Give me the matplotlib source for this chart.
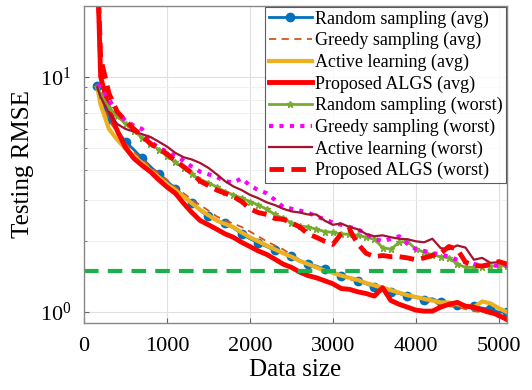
import matplotlib
matplotlib.use('Agg')
import matplotlib.pyplot as plt
import numpy as np

plt.rcParams['font.family'] = ['Liberation Serif', 'DejaVu Serif']
plt.rcParams['mathtext.fontset'] = 'stix'

# data size (x axis)
x = np.array([160, 200, 300, 400, 500, 600, 700, 800, 900, 1000,
              1100, 1200, 1300, 1400, 1500, 1600, 1700, 1800, 1900, 2000,
              2100, 2200, 2300, 2400, 2500, 2600, 2700, 2800, 2900, 3000,
              3100, 3200, 3300, 3400, 3500, 3600, 3700, 3800, 3900, 4000,
              4100, 4200, 4300, 4400, 4500, 4600, 4700, 4800, 4900, 5000, 5100])

# testing RMSE, averages
random_avg = [9.1, 8.0, 6.6, 5.9, 5.3, 4.9, 4.5, 4.15, 3.85, 3.6,
              3.35, 3.12, 2.92, 2.7, 2.55, 2.45, 2.38, 2.28, 2.15, 2.05,
              1.97, 1.9, 1.83, 1.78, 1.74, 1.66, 1.6, 1.57, 1.52, 1.48,
              1.43, 1.4, 1.36, 1.32, 1.28, 1.26, 1.22, 1.2, 1.17, 1.16,
              1.13, 1.14, 1.1, 1.09, 1.07, 1.07, 1.06, 1.04, 1.03, 1.0, 1.0]
greedy_avg = [9.0, 8.0, 6.5, 5.8, 5.2, 4.8, 4.45, 4.15, 3.9, 3.65,
              3.4, 3.2, 3.0, 2.85, 2.7, 2.55, 2.45, 2.38, 2.3, 2.2,
              2.1, 2.0, 1.92, 1.85, 1.75, 1.67, 1.6, 1.54, 1.5, 1.46,
              1.42, 1.38, 1.35, 1.32, 1.28, 1.26, 1.23, 1.2, 1.17, 1.15,
              1.12, 1.1, 1.08, 1.06, 1.05, 1.03, 1.01, 1.0, 0.98, 0.95, 0.93]
active_avg = [9.0, 7.6, 6.0, 5.4, 4.95, 4.6, 4.3, 4.0, 3.75, 3.5,
              3.3, 3.1, 2.9, 2.72, 2.58, 2.45, 2.37, 2.3, 2.18, 2.08,
              2.0, 1.92, 1.85, 1.78, 1.72, 1.65, 1.6, 1.55, 1.5, 1.47,
              1.43, 1.4, 1.37, 1.33, 1.3, 1.27, 1.24, 1.21, 1.18, 1.16,
              1.14, 1.12, 1.1, 1.1, 1.08, 1.06, 1.05, 1.11, 1.09, 1.04, 1.0]
algs_avg = [30.0, 10.0, 7.3, 5.9, 5.0, 4.5, 4.2, 3.95, 3.65, 3.4,
            3.2, 2.9, 2.65, 2.45, 2.35, 2.25, 2.15, 2.08, 1.98, 1.9,
            1.82, 1.76, 1.68, 1.6, 1.55, 1.48, 1.43, 1.4, 1.36, 1.32,
            1.26, 1.25, 1.22, 1.2, 1.17, 1.27, 1.12, 1.08, 1.05, 1.02,
            1.01, 1.01, 1.05, 1.08, 1.1, 1.06, 1.05, 1.02, 1.0, 0.97, 0.93]

# testing RMSE, worst case
random_worst = [9.0, 8.4, 7.4, 6.8, 6.3, 5.9, 5.5, 5.2, 4.9, 4.6,
                4.35, 4.1, 3.85, 3.65, 3.55, 3.4, 3.25, 3.15, 3.05, 2.95,
                2.85, 2.74, 2.6, 2.5, 2.4, 2.32, 2.3, 2.25, 2.2, 2.18,
                2.15, 2.14, 2.12, 2.08, 2.04, 1.88, 1.85, 1.98, 2.0, 1.85,
                1.8, 1.75, 1.72, 1.7, 1.6, 1.55, 1.55, 1.56, 1.57, 1.57, 1.57]
greedy_worst = [9.3, 9.0, 8.0, 7.1, 6.5, 6.2, 6.0, 5.3, 5.0, 4.8,
                4.6, 4.4, 4.15, 3.95, 3.85, 3.75, 3.6, 3.55, 3.7, 3.45,
                3.3, 3.2, 3.0, 2.8, 2.75, 2.7, 2.65, 2.55, 2.48, 2.4,
                2.35, 2.3, 2.25, 2.15, 2.05, 2.0, 2.05, 2.1, 1.95, 1.85,
                1.82, 1.78, 1.76, 1.72, 1.67, 1.63, 1.6, 1.58, 1.57, 1.58, 1.57]
active_worst = [9.0, 8.2, 7.0, 6.3, 6.0, 5.85, 5.7, 5.55, 5.3, 5.05,
                4.75, 4.55, 4.45, 4.3, 4.1, 3.85, 3.6, 3.42, 3.3, 3.15,
                3.05, 2.93, 2.85, 2.75, 2.68, 2.65, 2.6, 2.6, 2.45, 2.35,
                2.38, 2.3, 2.25, 2.15, 2.1, 2.12, 2.08, 2.05, 2.04, 2.0,
                1.98, 2.05, 1.87, 1.85, 1.92, 1.88, 1.67, 1.7, 1.62, 1.63, 1.6]
algs_worst = [30.0, 12.0, 8.5, 7.1, 6.5, 6.0, 5.6, 5.2, 4.95, 4.7,
              4.4, 4.15, 3.9, 3.6, 3.45, 3.3, 3.2, 3.1, 2.95, 2.75,
              2.65, 2.6, 2.5, 2.48, 2.4, 2.3, 2.15, 2.08, 2.0, 1.94,
              2.15, 2.25, 1.95, 1.78, 1.72, 1.74, 1.72, 1.72, 1.7, 1.67,
              1.7, 1.74, 1.78, 1.9, 1.85, 1.63, 1.58, 1.57, 1.6, 1.64, 1.6]

threshold = 1.5

fig = plt.figure(figsize=(5.32, 3.9), dpi=100)
ax = fig.add_axes([0.158, 0.172, 0.795, 0.813])

ax.plot(x, random_avg, color='#0072BD', lw=2, marker='o', ms=6, markevery=2,
        label='Random sampling (avg)')
ax.plot(x, greedy_avg, color='#D95319', lw=1.3, ls=(0, (4, 3)),
        label='Greedy sampling (avg)')
ax.plot(x, active_avg, color='#EDB120', lw=3, label='Active learning (avg)')
ax.plot(x, algs_avg, color='#FF0000', lw=3.5, label='Proposed ALGS (avg)')
ax.plot(x, random_worst, color='#77AC30', lw=2, marker='*', ms=5,
        label='Random sampling (worst)')
ax.plot(x, greedy_worst, color='#FF00FF', lw=3, ls=(0, (1, 1.5)),
        label='Greedy sampling (worst)')
ax.plot(x, active_worst, color='#A2142F', lw=1.6, label='Active learning (worst)')
ax.plot(x, algs_worst, color='#FF0000', lw=3.5, ls=(0, (3, 1.5)),
        label='Proposed ALGS (worst)')
ax.axhline(threshold, color='#1DB04A', lw=3, ls=(0, (3.5, 2.2)))

ax.set_yscale('log')
ax.set_xlim(0, 5100)
ax.set_ylim(0.9, 20)
ax.set_xticks([0, 1000, 2000, 3000, 4000, 5000])
ax.grid(True, which='major', color='#e0e0e0', lw=0.8)
ax.grid(True, which='minor', axis='y', color='#eeeeee', lw=0.6)
ax.set_axisbelow(True)
ax.tick_params(direction='in', which='both', labelsize=16, color='#666666')
ax.tick_params(axis='x', pad=10)
ax.tick_params(axis='y', pad=9)
for s in ax.spines.values():
    s.set_color('#888888')
    s.set_linewidth(1.0)

ax.set_xlabel('Data size', fontsize=18, labelpad=2)
ax.set_ylabel('Testing RMSE', fontsize=18, labelpad=4)

leg = ax.legend(loc='upper right', fontsize=13, frameon=True, fancybox=False,
                borderaxespad=0.05, handlelength=2.4, handletextpad=0.15,
                labelspacing=0.24, borderpad=0.2)
leg.get_frame().set_edgecolor('#333333')
leg.get_frame().set_linewidth(0.8)

plt.savefig('out.png', dpi=100)
plt.close()
